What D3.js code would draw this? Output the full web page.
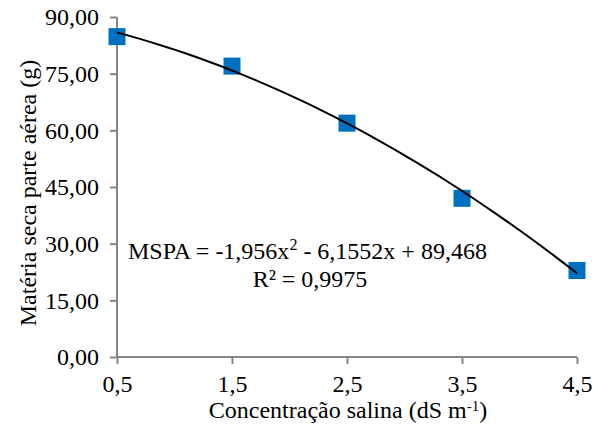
<!DOCTYPE html>
<html><head><meta charset="utf-8">
<script src="https://cdn.jsdelivr.net/npm/d3@7"></script>
<style>body{margin:0;background:#fff}svg{display:block}text{font-family:"Liberation Serif","Times New Roman",serif;fill:#000}</style>
</head><body>
<script>
const xValues = [0.5, 1.5, 2.5, 3.5, 4.5];
const yValues = [84.8, 77.0, 61.9, 42.0, 22.9];
const xTicks = [0.5, 1.5, 2.5, 3.5, 4.5];
const yTicks = [0, 15, 30, 45, 60, 75, 90];
const trendCoef = [-1.956, -6.1552, 89.468]; // a, b, c of displayed equation
const fmtComma = (v, d) => v.toFixed(d).replace('.', ',');

const W = 593, H = 425;
const FS = 24;
const svg = d3.select('body').append('svg').attr('width', W).attr('height', H);
const x = d3.scaleLinear().domain([0.5, 4.5]).range([117, 577]);
const y = d3.scaleLinear().domain([0, 90]).range([357, 17]);
const axisColor = '#868686';

const yAxis = svg.append('g').attr('transform', 'translate(117,0)')
  .call(d3.axisLeft(y).tickValues(yTicks).tickSize(7).tickPadding(11).tickFormat(d => fmtComma(d, 2)));
const xAxis = svg.append('g').attr('transform', 'translate(0,357)')
  .call(d3.axisBottom(x).tickValues(xTicks).tickSize(7).tickPadding(11).tickFormat(d => fmtComma(d, 1)));
[yAxis, xAxis].forEach(g => {
  g.attr('font-family', null).attr('font-size', null);
  g.select('.domain').attr('stroke', axisColor).attr('stroke-width', 2);
  g.selectAll('.tick line').attr('stroke', axisColor).attr('stroke-width', 2);
  g.selectAll('.tick text').style('font-size', FS + 'px').attr('fill', '#000')
    .style('font-family', '"Liberation Serif", serif');
});
xAxis.select('.domain').attr('d', 'M117,0H577');
yAxis.select('.domain').attr('d', 'M0,17V357');

// markers
const ms = 17;
svg.append('g').selectAll('rect').data(xValues).join('rect')
  .attr('x', (d) => x(d) - ms / 2)
  .attr('y', (d, i) => y(yValues[i]) - ms / 2)
  .attr('width', ms).attr('height', ms).attr('fill', '#0070C0');

// trendline from displayed equation
const curveX = d3.range(0, 41).map(i => 0.5 + i * 0.1);
const line = d3.line().x(d => x(d)).y(d => y(trendCoef[0] * d * d + trendCoef[1] * d + trendCoef[2])).curve(d3.curveMonotoneX);
svg.append('path').datum(curveX).attr('d', line).attr('fill', 'none').attr('stroke', '#000').attr('stroke-width', 2);

// equation
const eq = svg.append('text').attr('x', 128).attr('y', 259).style('font-size', FS + 'px');
eq.append('tspan').text('MSPA = -1,956x');
eq.append('tspan').text('2').style('font-size', '16px').attr('dy', -9);
eq.append('tspan').text(' - 6,1552x + 89,468').attr('dy', 9);
svg.append('text').attr('x', 310).attr('y', 287).attr('text-anchor', 'middle').style('font-size', FS + 'px').text('R² = 0,9975');

// axis titles
const xt = svg.append('text').attr('x', 348).attr('y', 418).attr('text-anchor', 'middle').style('font-size', FS + 'px');
xt.append('tspan').text('Concentração salina (dS m');
xt.append('tspan').text('-1').style('font-size', '15px').attr('dy', -7);
xt.append('tspan').text(')').attr('dy', 7);
svg.append('text').attr('transform', 'translate(36,193) rotate(-90)').attr('text-anchor', 'middle')
  .style('font-size', FS + 'px').text('Matéria seca parte aérea (g)');
</script>
</body></html>
